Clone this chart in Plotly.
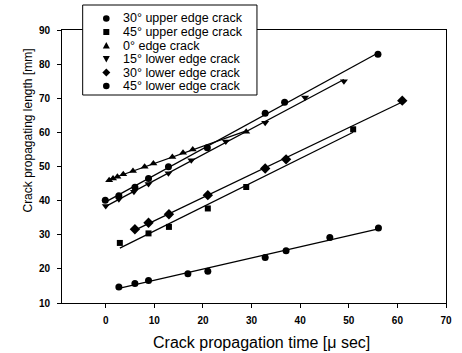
import numpy as np
import plotly.graph_objects as go

# ---- data ----
names = ["30° upper edge crack", "45° upper edge crack", "0° edge crack",
         "15° lower edge crack", "30° lower edge crack", "45° lower edge crack"]
symbols = ["circle", "square", "triangle-up", "triangle-down", "diamond", "circle"]

up30_t = [2.7, 6.0, 8.8, 16.9, 21.0, 32.8, 37.1, 46.1, 56.1]
up30_l = [14.7, 15.7, 16.6, 18.6, 19.3, 23.3, 25.3, 29.2, 32.0]

up45_t = [2.9, 8.8, 13.0, 21.0, 28.9, 50.9]
up45_l = [27.6, 30.4, 32.3, 37.7, 44.0, 60.9]

edge0_t = [0.7, 1.5, 2.4, 3.6, 5.6, 8.0, 9.8, 13.7, 15.9, 17.9, 28.9]
edge0_l = [46.0, 46.5, 47.0, 47.7, 48.7, 49.9, 50.9, 52.8, 54.0, 55.0, 60.2]

lo15_t = [0.0, 2.7, 5.8, 8.8, 12.9, 17.6, 24.7, 32.8, 41.0, 49.0]
lo15_l = [38.4, 40.4, 42.6, 44.9, 48.0, 51.8, 57.3, 62.8, 70.2, 75.0]

lo30_t = [6.0, 8.8, 13.0, 21.0, 32.8, 37.1, 61.0]
lo30_l = [31.6, 33.5, 36.0, 41.6, 49.4, 52.1, 69.3]

lo45_t = [-0.1, 2.7, 6.0, 8.8, 12.9, 20.9, 32.8, 36.8, 56.0]
lo45_l = [40.1, 41.4, 43.9, 46.5, 49.9, 55.5, 65.6, 68.8, 82.9]

series_t = [up30_t, up45_t, edge0_t, lo15_t, lo30_t, lo45_t]
series_l = [up30_l, up45_l, edge0_l, lo15_l, lo30_l, lo45_l]

x_ticks = [0, 10, 20, 30, 40, 50, 60, 70]
y_ticks = [10, 20, 30, 40, 50, 60, 70, 80, 90]

# ---- figure ----
W, H = 462, 353
ML, MR, MT, MB = 62, 10, 30, 50
PW, PH = W - ML - MR, H - MT - MB

def px2paper(px, py):
    return (px - ML) / PW, (H - MB - py) / PH

sizes = {"circle": 7, "square": 6, "triangle-up": 7, "triangle-down": 7, "diamond": 8}

fig = go.Figure()
for name, sym, t, l in zip(names, symbols, series_t, series_l):
    t = np.array(t, float)
    l = np.array(l, float)
    k, b = np.polyfit(t, l, 1)
    xs = np.array([t.min(), t.max()])
    fig.add_trace(go.Scatter(x=xs, y=k * xs + b, mode="lines",
                             line=dict(color="black", width=1.3),
                             showlegend=False, hoverinfo="skip"))
    fig.add_trace(go.Scatter(x=t, y=l, mode="markers", name=name,
                             marker=dict(symbol=sym, size=sizes[sym], color="black"),
                             showlegend=False))

tickfont = dict(family="Liberation Sans, Arial", size=10, color="black", weight="bold")
axis_common = dict(showline=True, linecolor="black", linewidth=1, mirror=True,
                   ticks="outside", ticklen=4, tickcolor="black", tickwidth=1,
                   showgrid=False, zeroline=False, tickfont=tickfont)

fig.update_layout(
    width=W, height=H,
    margin=dict(l=ML, r=MR, t=MT, b=MB, pad=0),
    paper_bgcolor="white", plot_bgcolor="white",
    xaxis=dict(range=[-9, 70], tickvals=x_ticks, ticklabelstandoff=4, **axis_common),
    yaxis=dict(range=[10, 90], tickvals=y_ticks, ticklabelstandoff=5, **axis_common),
    font=dict(family="Liberation Sans, Arial", color="black"),
)

# axis titles
fig.add_annotation(text="Crack propagation time [\u03bc sec]", xref="paper", yref="paper",
                   x=px2paper(265, 0)[0], y=px2paper(0, 342)[1], xanchor="center",
                   yanchor="middle", showarrow=False,
                   font=dict(family="Liberation Sans, Arial", size=16, color="black"))
fig.add_annotation(text="Crack propagating length [mm]", xref="paper", yref="paper",
                   x=px2paper(27, 0)[0], y=px2paper(0, 131)[1], xanchor="center",
                   yanchor="middle", textangle=-90, showarrow=False,
                   font=dict(family="Liberation Sans, Arial", size=12, color="black"))

# legend box (drawn manually for tight row spacing)
bx0, by1 = px2paper(83, 5)
bx1, by0 = px2paper(260, 95)
shapes = [dict(type="rect", xref="paper", yref="paper", x0=bx0, x1=bx1, y0=by0, y1=by1,
               line=dict(color="black", width=1), fillcolor="white", layer="above")]
row_y = [18.5, 32, 45.5, 59, 72.5, 86]
mx = px2paper(107, 0)[0]
tx = px2paper(122, 0)[0]
paths = {
    "square": "M-3,-3 L3,-3 L3,3 L-3,3 Z",
    "triangle-up": "M-3.5,-3 L3.5,-3 L0,3.5 Z",
    "triangle-down": "M-3.5,3 L3.5,3 L0,-3.5 Z",
    "diamond": "M0,-4 L4,0 L0,4 L-4,0 Z",
}
for name, sym, ry in zip(names, symbols, row_y):
    yy = px2paper(0, ry)[1]
    if sym == "circle":
        shapes.append(dict(type="circle", xref="paper", yref="paper",
                           xsizemode="pixel", ysizemode="pixel", xanchor=mx, yanchor=yy,
                           x0=-3.3, x1=3.3, y0=-3.3, y1=3.3,
                           fillcolor="black", line=dict(width=0), layer="above"))
    else:
        shapes.append(dict(type="path", xref="paper", yref="paper",
                           xsizemode="pixel", ysizemode="pixel", xanchor=mx, yanchor=yy,
                           path=paths[sym], fillcolor="black", line=dict(width=0),
                           layer="above"))
    fig.add_annotation(text=name, xref="paper", yref="paper", x=tx, y=yy,
                       xanchor="left", yanchor="middle", showarrow=False,
                       font=dict(family="Liberation Sans, Arial", size=12.5, color="black"))
fig.update_layout(shapes=shapes)

fig.write_html("out.html", config={"displayModeBar": False},
               post_script="document.body.style.margin='0';")
